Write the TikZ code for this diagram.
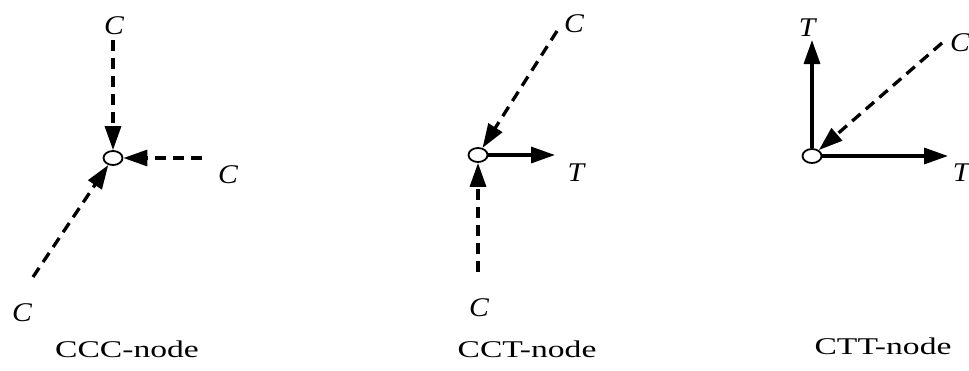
\documentclass[tikz,border=0pt]{standalone}
\usepackage{fontspec}
\setmainfont{Liberation Serif}
\usetikzlibrary{arrows.meta,shapes.geometric}
\newcommand{\widelab}[1]{\scalebox{1.1}[1]{#1}}
\newcommand{\widecap}[1]{\scalebox{1.4}[1]{#1}}
\begin{document}
\begin{tikzpicture}[x=1pt,y=-1pt,
  jn/.style={ellipse,draw,line width=1.8pt,fill=white,minimum width=19pt,minimum height=14pt,inner sep=0pt},
  lab/.style={font=\fontsize{27}{29}\selectfont\itshape,inner sep=1pt},
  caption/.style={font=\fontsize{24}{26}\selectfont},
  comp/.style={line width=3.3pt,dash pattern=on 11pt off 7pt,-{Triangle[length=24pt,width=16pt]}},
  tens/.style={line width=3.3pt,-{Triangle[length=24pt,width=16pt]}}]
\useasboundingbox (0,0) rectangle (969,370);
% Panel 1
\node[jn] (n1) at (113,158) {};
\node[lab] (c1a) at (114,26) {\widelab{C}};
\node[lab] (c1b) at (228,175) {\widelab{C}};
\node[lab] (c1c) at (22,313) {\widelab{C}};
\coordinate (s1a) at (113,40);
\coordinate (s1b) at (202,158);
\coordinate (s1c) at (33,277);
\draw[comp] (s1a) -- (n1);
\draw[comp] (s1b) -- (n1);
\draw[comp] (s1c) -- (n1);
\node[caption] (t1) at (127,349) {\widecap{CCC-node}};
% Panel 2
\node[jn] (n2) at (478,155) {};
\node[lab] (c2a) at (574,24) {\widelab{C}};
\node[lab] (t2a) at (576,173) {\widelab{T}};
\node[lab] (c2b) at (479,308) {\widelab{C}};
\coordinate (s2a) at (557,31);
\coordinate (e2t) at (555,155);
\coordinate (s2b) at (478,272);
\draw[comp] (s2a) -- (n2);
\draw[tens] (n2) -- (e2t);
\draw[comp] (s2b) -- (n2);
\node[caption] (t2) at (527,349) {\widecap{CCT-node}};
% Panel 3
\node[jn] (n3) at (812,156) {};
\node[lab] (t3a) at (807,28) {\widelab{T}};
\node[lab] (t3b) at (961,173) {\widelab{T}};
\node[lab] (c3a) at (960,43) {\widelab{C}};
\coordinate (e3a) at (812,40);
\coordinate (e3b) at (948,156);
\coordinate (s3a) at (942,43);
\draw[tens] (n3) -- (e3a);
\draw[tens] (n3) -- (e3b);
\draw[comp] (s3a) -- (n3);
\node[caption] (t3) at (883,346) {\widecap{CTT-node}};
\end{tikzpicture}
\end{document}
